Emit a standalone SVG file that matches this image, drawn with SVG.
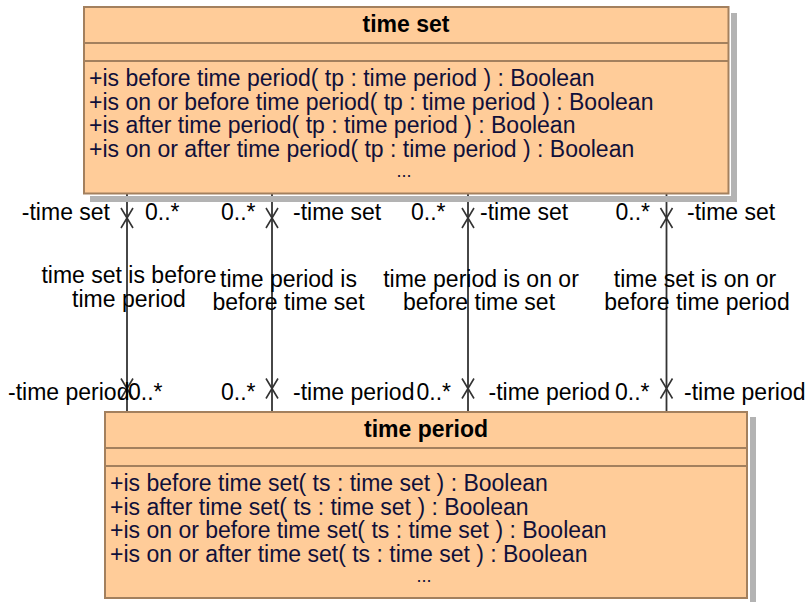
<svg xmlns="http://www.w3.org/2000/svg" width="807" height="602" viewBox="0 0 807 602">
<style>
text{font-family:"Liberation Sans",Arial,sans-serif;font-size:23px;fill:#000}
.title{font-weight:bold;text-anchor:middle}
.op{fill:#10103a}
.dots{font-size:18px;text-anchor:middle;fill:#10103a}
.box{fill:#ffcc99;stroke:#a3805e;stroke-width:2}
.sep{stroke:#a3805e;stroke-width:2}
.shadow{fill:#b3b3b3}
.conn{stroke:#333;stroke-width:1.8;fill:none}
.end{text-anchor:end}
.mid{text-anchor:middle}
</style>
<defs>
<path id="xm" d="M-6,-10 L6,10 M6,-10 L-6,10" stroke="#333" stroke-width="1.6" fill="none"/>
</defs>

<g id="connectors">
  <g id="a1">
    <line class="conn" x1="127" y1="194" x2="127" y2="412"/>
    <use href="#xm" x="127" y="218"/>
    <use href="#xm" x="127" y="388.5"/>
    <text class="end" x="110" y="220">-time set</text>
    <text x="145" y="220">0..*</text>
    <text class="mid" x="129" y="283">time set is before</text>
    <text class="mid" x="129" y="306.5">time period</text>
    <text x="8" y="399.5">-time period</text>
    <text x="128" y="399.5">0..*</text>
  </g>
  <g id="a2">
    <line class="conn" x1="272" y1="194" x2="272" y2="412"/>
    <use href="#xm" x="272" y="218"/>
    <use href="#xm" x="272" y="388.5"/>
    <text class="end" x="255.5" y="220">0..*</text>
    <text x="293" y="220">-time set</text>
    <text class="mid" x="288.5" y="286.5">time period is</text>
    <text class="mid" x="288.5" y="310">before time set</text>
    <text class="end" x="255.5" y="399.5">0..*</text>
    <text x="293" y="399.5">-time period</text>
  </g>
  <g id="a3">
    <line class="conn" x1="468" y1="194" x2="468" y2="412"/>
    <use href="#xm" x="468" y="218"/>
    <use href="#xm" x="468" y="388.5"/>
    <text x="411" y="220">0..*</text>
    <text x="480" y="220">-time set</text>
    <text class="mid" x="481" y="286.5">time period is on or</text>
    <text class="mid" x="479" y="310">before time set</text>
    <text x="416.5" y="399.5">0..*</text>
    <text x="488.5" y="399.5">-time period</text>
  </g>
  <g id="a4">
    <line class="conn" x1="666.5" y1="194" x2="666.5" y2="412"/>
    <use href="#xm" x="666.5" y="218"/>
    <use href="#xm" x="666.5" y="388.5"/>
    <text x="615.5" y="220">0..*</text>
    <text x="687" y="220">-time set</text>
    <text class="mid" x="695" y="286.5">time set is on or</text>
    <text class="mid" x="697" y="310">before time period</text>
    <text x="615" y="399.5">0..*</text>
    <text class="end" x="805.5" y="399.5">-time period</text>
  </g>
</g>

<g id="time_set">
  <rect class="shadow" x="731" y="13" width="6" height="189"/>
  <rect class="shadow" x="90" y="196" width="647" height="6"/>
  <rect class="box" x="84" y="7" width="644.5" height="186.5"/>
  <line class="sep" x1="84" y1="43" x2="728.5" y2="43"/>
  <line class="sep" x1="84" y1="61" x2="728.5" y2="61"/>
  <text class="title" x="406" y="32">time set</text>
  <text class="op" x="89" y="86">+is before time period( tp : time period ) : Boolean</text>
  <text class="op" x="89" y="109.5">+is on or before time period( tp : time period ) : Boolean</text>
  <text class="op" x="89" y="133">+is after time period( tp : time period ) : Boolean</text>
  <text class="op" x="89" y="156.5">+is on or after time period( tp : time period ) : Boolean</text>
  <text class="dots" x="404" y="177">...</text>
</g>

<g id="time_period">
  <rect class="shadow" x="750" y="417" width="6" height="185"/>
  <rect class="box" x="105" y="412" width="642" height="186"/>
  <line class="sep" x1="105" y1="448" x2="747" y2="448"/>
  <line class="sep" x1="105" y1="466" x2="747" y2="466"/>
  <text class="title" x="426" y="437">time period</text>
  <text class="op" x="110" y="491">+is before time set( ts : time set ) : Boolean</text>
  <text class="op" x="110" y="514.5">+is after time set( ts : time set ) : Boolean</text>
  <text class="op" x="110" y="538">+is on or before time set( ts : time set ) : Boolean</text>
  <text class="op" x="110" y="561.5">+is on or after time set( ts : time set ) : Boolean</text>
  <text class="dots" x="424" y="582">...</text>
</g>
</svg>
